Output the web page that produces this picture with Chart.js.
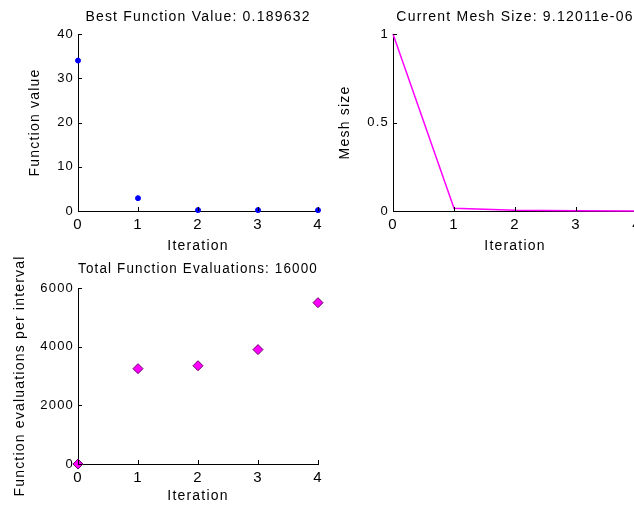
<!DOCTYPE html>
<html>
<head>
<meta charset="utf-8">
<script src="https://cdn.jsdelivr.net/npm/chart.js@4.4.1/dist/chart.umd.min.js"></script>
<style>
  html, body { margin: 0; padding: 0; background: #fff; width: 634px; height: 513px; overflow: hidden; position: relative; }
  canvas { position: absolute; }
</style>
</head>
<body>
<canvas id="bestChart" width="330" height="258" style="left:0;top:0"></canvas>
<canvas id="meshChart" width="320" height="258" style="left:330px;top:0"></canvas>
<canvas id="evalChart" width="330" height="273" style="left:0;top:240px"></canvas>
<script>
const iterations = [0, 1, 2, 3, 4];
const bestValues = [34.0, 2.9, 0.2, 0.2, 0.19];
const meshSizes = [1, 0.015, 0.004, 0.002, 0.00000912];
const evalCounts = [0, 3250, 3350, 3900, 5500];
const bestTicks = [0, 10, 20, 30, 40];
const meshTicks = [0, 0.5, 1];
const evalTicks = [0, 2000, 4000, 6000];

const FONT = "'Liberation Sans', Arial, sans-serif";

// MATLAB style ticks pointing into the axes
const inwardTicks = {
    id: "inwardTicks",
    afterDraw(chart) {
        const { ctx, chartArea } = chart;
        const xs = chart.scales.x, ys = chart.scales.y;
        ctx.save();
        ctx.strokeStyle = "#000";
        ctx.lineWidth = 1;
        ctx.beginPath();
        xs.ticks.forEach(t => {
            const px = Math.round(xs.getPixelForValue(t.value)) + 0.5;
            ctx.moveTo(px, chartArea.bottom);
            ctx.lineTo(px, chartArea.bottom - 4);
        });
        ys.ticks.forEach(t => {
            const py = Math.round(ys.getPixelForValue(t.value)) + 0.5;
            ctx.moveTo(chartArea.left, py);
            ctx.lineTo(chartArea.left + 4, py);
        });
        ctx.stroke();
        ctx.restore();
    }
};

// the old figure renders its text with loose spacing
const spacedText = {
    id: "spacedText",
    beforeDraw(chart) {
        chart.ctx.letterSpacing = "1.2px";
    }
};

function makeOptions(cfg) {
    return {
        responsive: false,
        animation: false,
        layout: { padding: { left: 0, right: cfg.padRight, top: 0, bottom: 0 } },
        plugins: {
            legend: { display: false },
            tooltip: { enabled: false },
            title: {
                display: true,
                text: cfg.title,
                fullSize: false,
                color: "#000",
                font: { family: FONT, size: 14, weight: "normal", lineHeight: 1.2 },
                padding: { top: cfg.titleTop, bottom: cfg.titleBottom }
            }
        },
        scales: {
            x: {
                type: "linear",
                min: 0,
                max: 4,
                afterFit: s => { s.height = cfg.xHeight; },
                afterBuildTicks: s => { s.ticks = iterations.map(v => ({ value: v })); },
                grid: { display: true, drawOnChartArea: false, drawTicks: false },
                border: { display: true, color: "#000", width: 1 },
                ticks: { color: "#000", padding: 5, font: { family: FONT, size: 15 }, callback: v => String(v) },
                title: {
                    display: true,
                    text: "Iteration",
                    color: "#000",
                    font: { family: FONT, size: 14, lineHeight: 1.2 },
                    padding: { top: 0, bottom: cfg.xTitleBottom }
                }
            },
            y: {
                type: "linear",
                min: cfg.yTicks[0],
                max: cfg.yTicks[cfg.yTicks.length - 1],
                afterFit: s => { s.width = cfg.yWidth; },
                afterBuildTicks: s => { s.ticks = cfg.yTicks.map(v => ({ value: v })); },
                grid: { display: true, drawOnChartArea: false, drawTicks: false },
                border: { display: true, color: "#000", width: 1 },
                ticks: { color: "#000", padding: 4, font: { family: FONT, size: 13 }, callback: v => String(v) },
                title: {
                    display: true,
                    text: cfg.yTitle,
                    color: "#000",
                    font: { family: FONT, size: 14, lineHeight: 1.2 },
                    padding: { top: cfg.yTitleTop, bottom: 0 }
                }
            }
        }
    };
}

new Chart("bestChart", {
    type: "scatter",
    data: {
        datasets: [{
            data: iterations.map((it, i) => ({ x: it, y: bestValues[i] })),
            backgroundColor: "#0000ff",
            borderColor: "#0000ff",
            pointRadius: 2.5,
            clip: false
        }]
    },
    options: makeOptions({
        title: "Best Function Value: 0.189632",
        titleTop: 9, titleBottom: 8.2,
        padRight: 12, xHeight: 47, xTitleBottom: 3,
        yWidth: 78, yTitleTop: 26.6, yTitle: "Function value", yTicks: bestTicks
    }),
    plugins: [inwardTicks, spacedText]
});

new Chart("meshChart", {
    type: "scatter",
    data: {
        datasets: [{
            data: iterations.map((it, i) => ({ x: it, y: meshSizes[i] })),
            showLine: true,
            borderColor: "#ff00ff",
            borderWidth: 1.5,
            pointRadius: 0,
            clip: false
        }]
    },
    options: makeOptions({
        title: "Current Mesh Size: 9.12011e-06",
        titleTop: 9, titleBottom: 8.2,
        padRight: 13, xHeight: 47, xTitleBottom: 3,
        yWidth: 63, yTitleTop: 6.6, yTitle: "Mesh size", yTicks: meshTicks
    }),
    plugins: [inwardTicks, spacedText]
});

new Chart("evalChart", {
    type: "scatter",
    data: {
        datasets: [{
            data: iterations.map((it, i) => ({ x: it, y: evalCounts[i] })),
            pointStyle: "rectRot",
            pointRadius: 5,
            backgroundColor: "#ff00ff",
            borderColor: "#6a006a",
            borderWidth: 1,
            clip: false
        }]
    },
    options: makeOptions({
        title: "Total Function Evaluations: 16000",
        titleTop: 21.1, titleBottom: 10.1,
        padRight: 12, xHeight: 49, xTitleBottom: 8,
        yWidth: 78, yTitleTop: 11.6, yTitle: "Function evaluations per interval", yTicks: evalTicks
    }),
    plugins: [inwardTicks, spacedText]
});
</script>
</body>
</html>
